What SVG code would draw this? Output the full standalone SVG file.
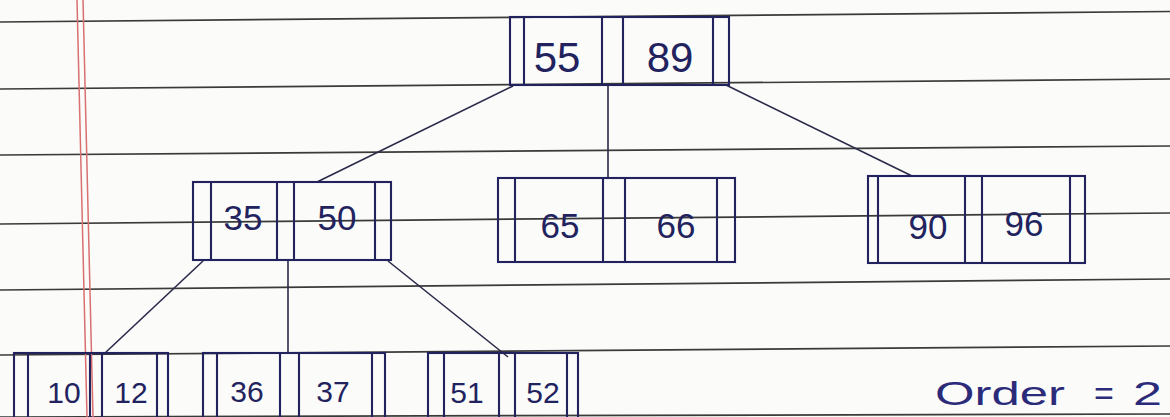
<svg xmlns="http://www.w3.org/2000/svg" width="1170" height="417" viewBox="0 0 1170 417">
<style>
.rule{stroke:#3a3a3a;stroke-width:1.7;fill:none}
.margin{stroke:#d97070;stroke-width:1.5;fill:none}
.box{stroke:#22235e;stroke-width:2.1;fill:none}
.conn{stroke:#2a2a4a;stroke-width:1.6;fill:none}
.num{font-family:"Liberation Sans",Arial,sans-serif;fill:#22235e;text-anchor:middle}
.big{font-size:42px}
.mid{font-size:35px}
.small{font-size:30px}
.order{font-family:"Liberation Sans",Arial,sans-serif;fill:#2b2b7a;font-size:34px}
</style>
<rect width="1170" height="417" fill="#fbfbfa"/>
<g id="paper">
<line class="rule" x1="0" y1="22" x2="1170" y2="11.5"/>
<line class="rule" x1="0" y1="89" x2="1170" y2="79"/>
<line class="rule" x1="0" y1="155" x2="1170" y2="146"/>
<line class="rule" x1="0" y1="224" x2="1170" y2="213"/>
<line class="rule" x1="0" y1="290" x2="1170" y2="279"/>
<line class="rule" x1="0" y1="355" x2="1170" y2="346"/>
<line class="rule" x1="0" y1="417" x2="1170" y2="414"/>
<line class="margin" x1="77" y1="0" x2="87" y2="417"/>
<line class="margin" x1="83" y1="0" x2="93" y2="417"/>
</g>
<g id="connectors">
<line class="conn" x1="513" y1="86" x2="317" y2="182"/>
<line class="conn" x1="608" y1="86" x2="608" y2="178"/>
<line class="conn" x1="726" y1="85" x2="912" y2="176"/>
<line class="conn" x1="203" y1="261" x2="105" y2="353"/>
<line class="conn" x1="288" y1="261" x2="288" y2="353"/>
<line class="conn" x1="388" y1="261" x2="508" y2="357"/>
</g>
<g id="node-55-89">
<rect class="box" x="510" y="17" width="219" height="68"/>
<line class="box" x1="524" y1="17" x2="524" y2="85"/>
<line class="box" x1="602" y1="17" x2="602" y2="85"/>
<line class="box" x1="623" y1="17" x2="623" y2="85"/>
<line class="box" x1="713" y1="17" x2="713" y2="85"/>
<text class="num big" x="557" y="72">55</text>
<text class="num big" x="670" y="72">89</text>
</g>
<g id="node-35-50">
<rect class="box" x="193" y="182" width="198" height="78"/>
<line class="box" x1="211" y1="182" x2="211" y2="260"/>
<line class="box" x1="277" y1="182" x2="277" y2="260"/>
<line class="box" x1="294" y1="182" x2="294" y2="260"/>
<line class="box" x1="375" y1="182" x2="375" y2="260"/>
<text class="num mid" x="243" y="230">35</text>
<text class="num mid" x="337" y="230">50</text>
</g>
<g id="node-65-66">
<rect class="box" x="498" y="178" width="237" height="84"/>
<line class="box" x1="515" y1="178" x2="515" y2="262"/>
<line class="box" x1="603" y1="178" x2="603" y2="262"/>
<line class="box" x1="625" y1="178" x2="625" y2="262"/>
<line class="box" x1="717" y1="178" x2="717" y2="262"/>
<text class="num mid" x="560" y="238">65</text>
<text class="num mid" x="676" y="238">66</text>
</g>
<g id="node-90-96">
<rect class="box" x="868" y="176" width="217" height="87"/>
<line class="box" x1="878" y1="176" x2="878" y2="263"/>
<line class="box" x1="965" y1="176" x2="965" y2="263"/>
<line class="box" x1="982" y1="176" x2="982" y2="263"/>
<line class="box" x1="1070" y1="176" x2="1070" y2="263"/>
<text class="num mid" x="928" y="239">90</text>
<text class="num mid" x="1024" y="236">96</text>
</g>
<g id="node-10-12">
<rect class="box" x="14" y="353" width="154" height="70"/>
<line class="box" x1="28" y1="353" x2="28" y2="417"/>
<line class="box" x1="90" y1="353" x2="90" y2="417"/>
<line class="box" x1="102" y1="353" x2="102" y2="417"/>
<line class="box" x1="157" y1="353" x2="157" y2="417"/>
<text class="num small" x="64" y="403">10</text>
<text class="num small" x="131" y="403">12</text>
</g>
<g id="node-36-37">
<rect class="box" x="203" y="353" width="182" height="70"/>
<line class="box" x1="217" y1="353" x2="217" y2="417"/>
<line class="box" x1="280" y1="353" x2="280" y2="417"/>
<line class="box" x1="299" y1="353" x2="299" y2="417"/>
<line class="box" x1="372" y1="353" x2="372" y2="417"/>
<text class="num small" x="247" y="402">36</text>
<text class="num small" x="333" y="402">37</text>
</g>
<g id="node-51-52">
<rect class="box" x="428" y="353" width="150" height="70"/>
<line class="box" x1="444" y1="353" x2="444" y2="417"/>
<line class="box" x1="499" y1="353" x2="499" y2="417"/>
<line class="box" x1="515" y1="353" x2="515" y2="417"/>
<line class="box" x1="567" y1="353" x2="567" y2="417"/>
<text class="num small" x="467" y="403">51</text>
<text class="num small" x="543" y="403">52</text>
</g>
<g id="label-order">
<text class="order" x="935" y="405" textLength="130" lengthAdjust="spacingAndGlyphs">Order</text>
<text class="order" x="1094" y="405">=</text>
<text class="order" x="1133" y="405" textLength="29" lengthAdjust="spacingAndGlyphs">2</text>
</g>
</svg>
